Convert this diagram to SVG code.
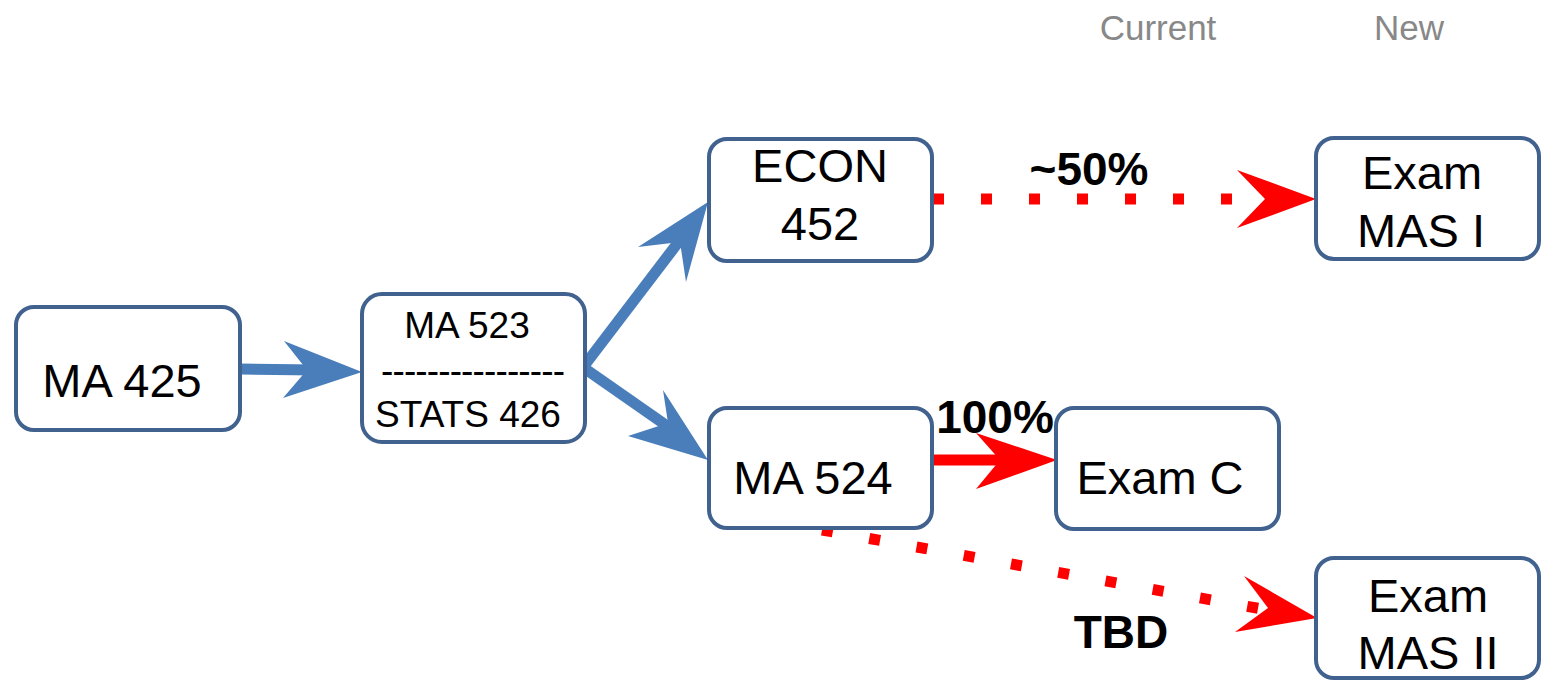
<svg xmlns="http://www.w3.org/2000/svg" width="1546" height="687" viewBox="0 0 1546 687">
<style>
.box{fill:#fff;stroke:#41628f;stroke-width:4}
.t{font-family:"Liberation Sans",Arial,sans-serif;font-size:47px;fill:#000;text-anchor:middle}
.s{font-family:"Liberation Sans",Arial,sans-serif;font-size:37px;fill:#000;text-anchor:middle}
.b{font-family:"Liberation Sans",Arial,sans-serif;font-size:46px;font-weight:bold;fill:#000;text-anchor:middle}
.h{font-family:"Liberation Sans",Arial,sans-serif;font-size:35px;fill:#888;text-anchor:middle}
.bl{stroke:#4a7ebb;stroke-width:11;fill:none}
.blh{fill:#4a7ebb}
.rd{stroke:#ff0000;stroke-width:11;fill:none;stroke-dasharray:11 37}
.rh{fill:#ff0000}
</style>
<rect width="1546" height="687" fill="#fff"/>
<g id="headers">
<text class="h" x="1158" y="40">Current</text>
<text class="h" x="1409" y="40">New</text>
</g>
<g id="connectors">
<line class="bl" x1="240" y1="369" x2="315" y2="370"/>
<polygon class="blh" points="362,372 284,341 307,370 283,398"/>
<line class="bl" x1="584" y1="366" x2="680" y2="240"/>
<polygon class="blh" points="708,202 638,247 680,242 686,282"/>
<line class="bl" x1="584" y1="368" x2="670" y2="428"/>
<polygon class="blh" points="708,460 663,390 668,423 628,436"/>
<line class="rd" x1="933" y1="199" x2="1240" y2="199"/>
<polygon class="rh" points="1316,199 1237,170 1265,199 1237,228"/>
<line x1="933" y1="460" x2="1005" y2="460" stroke="#ff0000" stroke-width="11"/>
<polygon class="rh" points="1057,460 976,433 1000,460 976,489"/>
<line class="rd" x1="822" y1="530" x2="1262" y2="609"/>
<polygon class="rh" points="1317,618 1244,576 1268,608 1235,632"/>
</g>
<g id="labels">
<text class="b" x="1089" y="185">~50%</text>
<text class="b" x="995" y="433">100%</text>
<text class="b" x="1121" y="648">TBD</text>
</g>
<g id="ma425">
<rect class="box" x="16" y="307" width="224" height="123" rx="18"/>
<text class="t" x="122" y="397">MA 425</text>
</g>
<g id="ma523">
<rect class="box" x="362" y="294" width="223" height="148" rx="20"/>
<text class="s" x="467" y="338">MA 523</text>
<text class="s" x="473" y="383" textLength="184" lengthAdjust="spacing">----------------</text>
<text class="s" x="468" y="427">STATS 426</text>
</g>
<g id="econ452">
<rect class="box" x="709" y="139" width="223" height="122" rx="18"/>
<text class="t" x="820" y="182">ECON</text>
<text class="t" x="820" y="240">452</text>
</g>
<g id="ma524">
<rect class="box" x="709" y="408" width="223" height="120" rx="18"/>
<text class="t" x="813" y="494">MA 524</text>
</g>
<g id="examc">
<rect class="box" x="1056" y="408" width="223" height="121" rx="18"/>
<text class="t" x="1160" y="494">Exam C</text>
</g>
<g id="exammas1">
<rect class="box" x="1316" y="138" width="223" height="121" rx="18"/>
<text class="t" x="1422" y="189">Exam</text>
<text class="t" x="1421" y="247">MAS I</text>
</g>
<g id="exammas2">
<rect class="box" x="1316" y="558" width="223" height="120" rx="18"/>
<text class="t" x="1428" y="612">Exam</text>
<text class="t" x="1428" y="669">MAS II</text>
</g>
</svg>
